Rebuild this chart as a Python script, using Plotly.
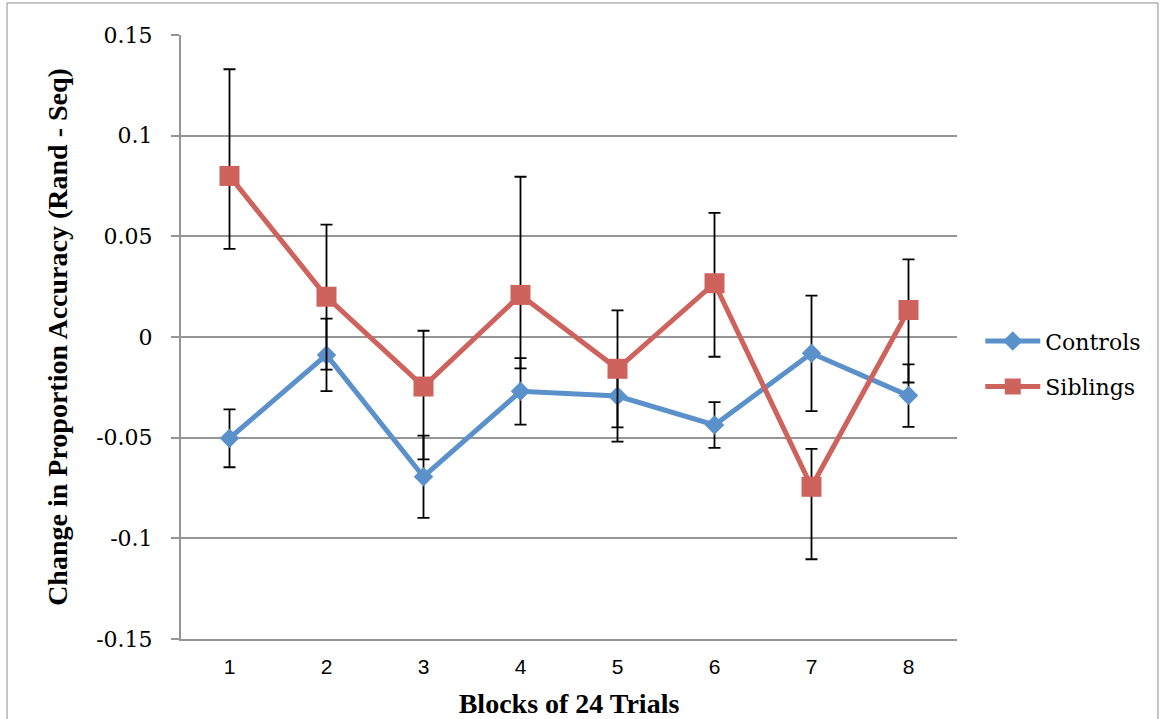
import plotly.graph_objects as go

blocks = ["1", "2", "3", "4", "5", "6", "7", "8"]
controls = [-0.0503, -0.0089, -0.0694, -0.0270, -0.0293, -0.0437, -0.0081, -0.0291]
controls_err = [0.0144, 0.0180, 0.0204, 0.0165, 0.0156, 0.0114, 0.0287, 0.0155]
siblings = [0.0800, 0.0200, -0.0246, 0.0209, -0.0158, 0.0267, -0.0744, 0.0134]
siblings_err_plus = [0.0530, 0.0358, 0.0277, 0.0587, 0.0290, 0.0350, 0.0188, 0.0252]
siblings_err_minus = [0.0362, 0.0362, 0.0362, 0.0365, 0.0362, 0.0365, 0.0360, 0.0360]
y_ticks = [-0.15, -0.1, -0.05, 0, 0.05, 0.1, 0.15]
y_tick_text = ["-0.15", "-0.1", "-0.05", "0", "0.05", "0.1", "0.15"]

BLUE = "#5A91CB"
RED = "#CE625C"

fig = go.Figure()
fig.add_trace(go.Scatter(
    x=blocks, y=controls, name="Controls", mode="lines+markers",
    legendgroup="c",
    line=dict(color=BLUE, width=5),
    marker=dict(symbol="diamond", size=15, color=BLUE),
    error_y=dict(type="data", array=controls_err, symmetric=True,
                 color="black", thickness=1.8, width=6),
))
fig.add_trace(go.Scatter(
    x=blocks, y=siblings, name="Siblings", mode="lines+markers",
    legendgroup="s",
    line=dict(color=RED, width=5),
    marker=dict(symbol="square", size=20, color=RED),
    error_y=dict(type="data", array=siblings_err_plus, arrayminus=siblings_err_minus,
                 symmetric=False, color="black", thickness=1.8, width=6),
))

fig.update_layout(
    width=1163, height=719,
    margin=dict(l=181, r=206, t=35, b=80, autoexpand=False),
    paper_bgcolor="white", plot_bgcolor="white",
    showlegend=True,
    legend=dict(
        x=1.03, xanchor="left", y=0.455, yanchor="middle",
        font=dict(family="DejaVu Serif", size=22, color="black"),
        tracegroupgap=14, itemwidth=55,
        bgcolor="rgba(0,0,0,0)",
    ),
    xaxis=dict(
        type="category", range=[-0.5, 7.5],
        showgrid=False, zeroline=False,
        showline=True, linecolor="#959595", linewidth=2,
        ticks="", ticklabelstandoff=8,
        tickfont=dict(family="Liberation Sans", size=21, color="black"),
        title=dict(text="<b>Blocks of 24 Trials</b>", standoff=20,
                   font=dict(family="Liberation Serif", size=28, color="black")),
    ),
    yaxis=dict(
        range=[-0.15, 0.15], tickvals=y_ticks, ticktext=y_tick_text,
        showgrid=True, gridcolor="#959595", gridwidth=2,
        zeroline=False,
        showline=True, linecolor="#959595", linewidth=2,
        ticks="outside", ticklen=8, tickcolor="#959595", tickwidth=2,
        ticklabelstandoff=14,
        tickfont=dict(family="DejaVu Serif", size=22, color="black"),
        title=dict(text="<b>Change in Proportion Accuracy (Rand - Seq)</b>", standoff=20,
                   font=dict(family="Liberation Serif", size=28, color="black")),
    ),
    shapes=[dict(type="rect", xref="paper", yref="paper",
                 x0=-0.2242, x1=1.259, y0=-0.15, y1=1.053,
                 line=dict(color="#8C8C8C", width=1), fillcolor="rgba(0,0,0,0)",
                 layer="below")],
)

fig.write_html("out.html")
